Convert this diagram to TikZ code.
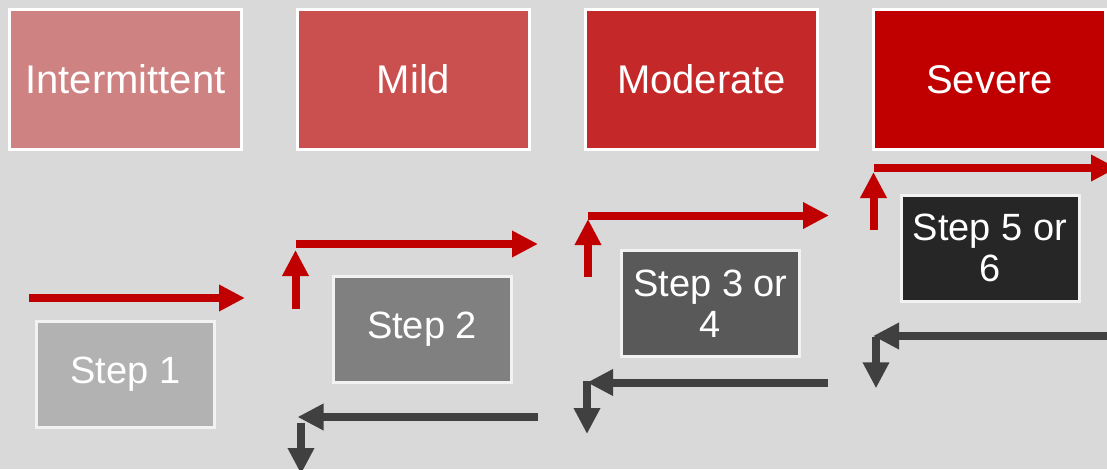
\documentclass[tikz,border=0pt]{standalone}
\usepackage{fontspec}
\setmainfont{Liberation Sans}
\usetikzlibrary{arrows.meta,positioning}
\definecolor{bggray}{HTML}{D9D9D9}
\definecolor{sevred}{HTML}{C00000}
\definecolor{intred}{RGB}{207,130,130}
\definecolor{mildred}{RGB}{202,80,80}
\definecolor{modred}{RGB}{197,40,40}
\definecolor{darkarrow}{HTML}{404040}
\definecolor{stepedge}{HTML}{F2F2F2}

\begin{document}
\begin{tikzpicture}[
    x=1pt, y=-1pt,
    node distance=53pt,
    level/.style={draw=white, line width=3pt, rectangle, minimum width=232pt, minimum height=140pt, align=center, text=white, font=\fontsize{40}{44}\selectfont},
    stepbox/.style={draw=stepedge, line width=3pt, rectangle, minimum width=178pt, minimum height=106pt, align=center, text=white, font=\fontsize{38}{41}\selectfont},
    rarrow/.style={-{Triangle[length=26pt,width=25pt]}, line width=8pt, sevred},
    darrow/.style={-{Triangle[length=26pt,width=25pt]}, line width=8pt, darkarrow},
]
    \useasboundingbox (0,0) rectangle (1107,469);
    \clip (0,0) rectangle (1107,469);
    \fill [bggray] (0,0) rectangle (1107,469);

    % severity levels
    \node [level, fill=intred] (int) at (125.5,79.5) {Intermittent};
    \node [level, fill=mildred, right=of int] (mild) {Mild};
    \node [level, fill=modred, right=of mild] (mod) {Moderate};
    \node [level, fill=sevred, right=of mod] (sev) {Severe};

    % treatment steps
    \node [stepbox, fill=black!30] (s1) at (125.5,374.3) {Step 1};
    \node [stepbox, fill=black!50] (s2) at (422,329) {Step 2};
    \node [stepbox, fill=black!65] (s34) at (710.5,303.3) {Step 3 or\\4};
    \node [stepbox, fill=black!85] (s56) at (990,248.3) {Step 5 or\\6};

    % step up
    \coordinate (up1a) at (29,298);
    \coordinate (up1b) at (245,298);
    \draw [rarrow] (up1a) -- (up1b);

    \coordinate (up2a) at (295.5,309);
    \coordinate (up2b) at (295.5,250);
    \coordinate (up2c) at (295.5,244);
    \coordinate (up2d) at (538,244);
    \draw [rarrow] (up2a) -- (up2b);
    \draw [rarrow] (up2c) -- (up2d);

    \coordinate (up3a) at (588,277);
    \coordinate (up3b) at (588,219);
    \coordinate (up3c) at (588,215.5);
    \coordinate (up3d) at (829,215.5);
    \draw [rarrow] (up3a) -- (up3b);
    \draw [rarrow] (up3c) -- (up3d);

    \coordinate (up4a) at (873.5,230);
    \coordinate (up4b) at (873.5,172);
    \coordinate (up4c) at (873.5,168);
    \coordinate (up4d) at (1117,168);
    \draw [rarrow] (up4a) -- (up4b);
    \draw [rarrow] (up4c) -- (up4d);

    % step down
    \coordinate (dn1a) at (538,417);
    \coordinate (dn1b) at (297.5,417);
    \coordinate (dn1c) at (301,423);
    \coordinate (dn1d) at (301,474);
    \draw [darrow] (dn1a) -- (dn1b);
    \draw [darrow] (dn1c) -- (dn1d);

    \coordinate (dn2a) at (827.5,382.5);
    \coordinate (dn2b) at (587,382.5);
    \coordinate (dn2c) at (587,381);
    \coordinate (dn2d) at (587,434);
    \draw [darrow] (dn2a) -- (dn2b);
    \draw [darrow] (dn2c) -- (dn2d);

    \coordinate (dn3a) at (1115,336);
    \coordinate (dn3b) at (873,336);
    \coordinate (dn3c) at (876,337);
    \coordinate (dn3d) at (876,388.3);
    \draw [darrow] (dn3a) -- (dn3b);
    \draw [darrow] (dn3c) -- (dn3d);

\end{tikzpicture}
\end{document}
